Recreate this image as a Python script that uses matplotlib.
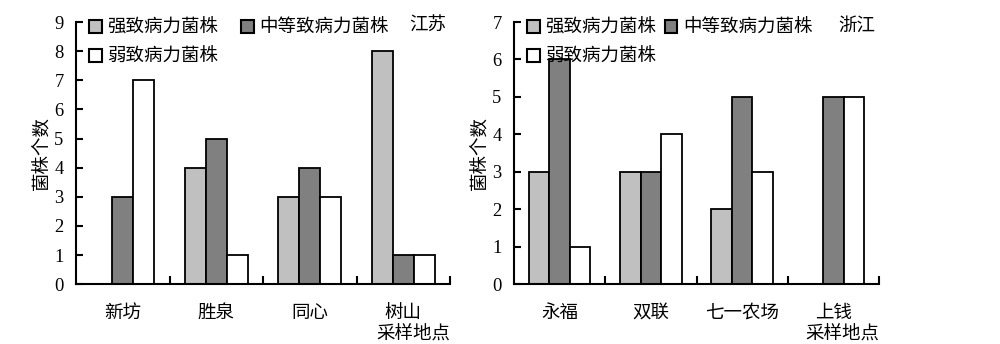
"""Strain counts by virulence class at sampling sites in Jiangsu and Zhejiang."""

import matplotlib
matplotlib.use("Agg")
import matplotlib.pyplot as plt
from matplotlib.patches import Patch

plt.rcParams["font.family"] = ["Liberation Serif", "Noto Sans CJK SC"]
plt.rcParams["font.size"] = 13.3

# Data

series_names = ["强致病力菌株", "中等致病力菌株", "弱致病力菌株"]
series_colors = ["#c0c0c0", "#808080", "#ffffff"]

js_sites = ["新坊", "胜泉", "同心", "树山"]
js_strong = [0, 4, 3, 8]
js_medium = [3, 5, 4, 1]
js_weak = [7, 1, 3, 1]

zj_sites = ["永福", "双联", "七一农场", "上钱"]
zj_strong = [3, 3, 2, 0]
zj_medium = [6, 3, 5, 5]
zj_weak = [1, 4, 3, 5]

panels = [
    ("江苏", js_sites, [js_strong, js_medium, js_weak], 9, [0.076, 0.174, 0.374, 0.762], 1.2),
    ("浙江", zj_sites, [zj_strong, zj_medium, zj_weak], 7, [0.514, 0.174, 0.365, 0.762], 0.45),
]

bar_width = 0.225

fig = plt.figure(figsize=(10, 3.44), dpi=100)

for region, sites, values, ymax, rect, colspace in panels:
    ax = fig.add_axes(rect)
    n = len(sites)
    centers = [i + 0.5 for i in range(n)]
    for k, (vals, color) in enumerate(zip(values, series_colors)):
        xs = [c + (k - 1) * bar_width for c in centers]
        ax.bar(xs, vals, width=bar_width, color=color, edgecolor="black",
               linewidth=1.3, zorder=2)

    ax.set_xlim(0, n)
    ax.set_ylim(0, ymax)
    ax.set_yticks(range(ymax + 1))
    ax.set_xticks(range(1, n + 1))
    ax.set_xticklabels([])
    ax.set_xticks(centers, minor=True)
    ax.set_xticklabels(sites, minor=True)
    ax.tick_params(axis="x", which="major", direction="in", length=6, width=1.5)
    ax.tick_params(axis="x", which="minor", length=0, pad=15)
    ax.tick_params(axis="y", direction="in", length=5, width=1.5, pad=9)
    for side in ("top", "right"):
        ax.spines[side].set_visible(False)
    for side in ("left", "bottom"):
        ax.spines[side].set_linewidth(1.5)
        ax.spines[side].set_zorder(3)

    ax.set_ylabel("菌株个数", labelpad=2)
    ax.set_xlabel("采样地点", loc="right", labelpad=3)

    handles = [Patch(facecolor=c, edgecolor="black", linewidth=1.5) for c in series_colors]
    order = [0, 2, 1]
    ax.legend([handles[i] for i in order], [series_names[i] for i in order],
              ncol=2, loc="upper left", bbox_to_anchor=(0.035, 1.01),
              frameon=False, handlelength=0.7, handleheight=0.7,
              handletextpad=0.3, columnspacing=colspace, labelspacing=0.65,
              borderaxespad=0, borderpad=0)

    ax.text(0.99, 0.985, region, transform=ax.transAxes, ha="right", va="center")

fig.savefig("out.png", dpi=100)
